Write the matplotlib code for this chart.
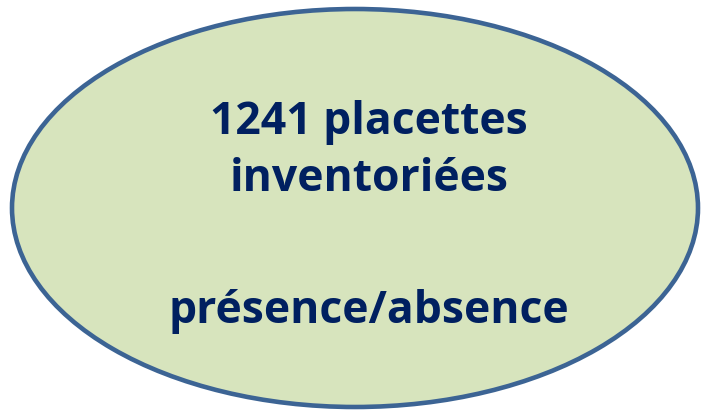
import matplotlib.pyplot as plt
from matplotlib.patches import Ellipse

# texte de la bulle
lines = ["1241 placettes", "inventoriées", "présence/absence"]
baselines = [134, 191, 323]  # position verticale (px) de chaque ligne

fig = plt.figure(figsize=(7.02, 4.14), dpi=100)
ax = fig.add_axes([0, 0, 1, 1])
ax.set_xlim(0, 702)
ax.set_ylim(414, 0)
ax.axis("off")

ell = Ellipse((355, 209), 686, 398, facecolor="#d7e4bd",
              edgecolor="#3c6494", linewidth=3.3)
ax.add_patch(ell)

for txt, y in zip(lines, baselines):
    ax.text(369, y, txt, ha="center", va="baseline", fontsize=32,
            fontweight="bold", color="#002060", family="Open Sans")

fig.savefig("out.png", dpi=100)
